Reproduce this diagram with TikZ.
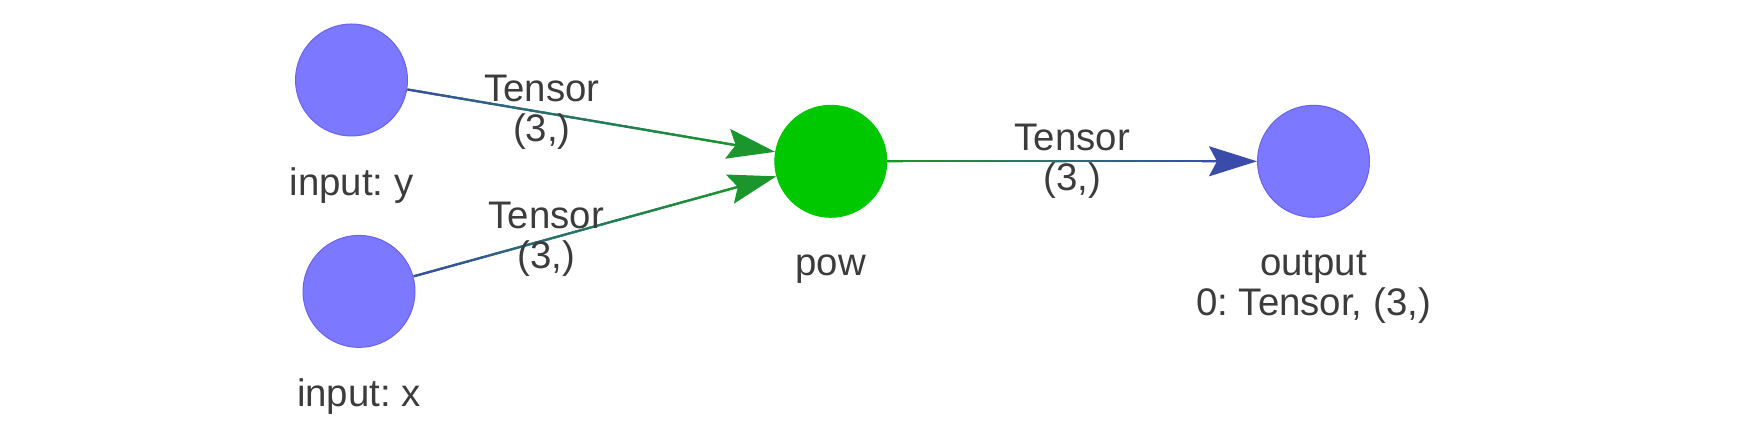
\documentclass[tikz,border=0pt]{standalone}
\usepackage{fontspec,
			tikz
			}
\setmainfont{Liberation Sans}
\usetikzlibrary{arrows.meta,calc}
\frenchspacing

\definecolor{tensorblue}{HTML}{7C78FF}
\definecolor{tensorrim}{HTML}{6A62EE}
\definecolor{opgreen}{HTML}{00C800}
\definecolor{flowblue}{HTML}{3A4CAA}
\definecolor{flowgreen}{HTML}{1A962C}
\definecolor{labelgray}{HTML}{3C3C3C}

\begin{document}
\begin{tikzpicture}[x=0.5pt,y=-0.5pt,
		font=\fontsize{19.2}{20}\selectfont,
		tensornode/.style={circle,fill=tensorblue,draw=tensorrim,line width=0.5pt,minimum size=56pt,inner sep=0pt},
		opnode/.style={circle,fill=opgreen,draw=opgreen,line width=0.5pt,minimum size=56pt,inner sep=0pt},
		flow/.style={line width=1.1pt},
		caption/.style={text=labelgray,align=center,inner sep=0pt}]
		\useasboundingbox (0,0) rectangle (1744,442);
		\node[tensornode] (y) at (351.5,80) {};
		\node[tensornode] (x) at (359,291.4) {};
		\node[opnode] (pow) at (830.8,161.3) {};
		\node[tensornode] (out) at (1313.5,161.3) {};
		\node[caption,anchor=base] (ylab) at (351.5,196) {input: y};
		\node[caption,anchor=base] (xlab) at (359,407) {input: x};
		\node[caption,anchor=base] (powlab) at (830.8,276) {pow};
		\node[caption,anchor=north] (outlab) at (1313.5,250) {output\\0: Tensor, (3,)};
		% edges, coloured from source to target
		\foreach \a/\b/\ca/\cb/\p in {y/pow/flowblue/flowgreen/0.366,
				x/pow/flowblue/flowgreen/0.366,
				pow/out/flowgreen/flowblue/0.5} {
			\draw[flow,draw=\cb,-{Stealth[length=24pt,width=15pt,inset=4pt]}] (\a) -- (\b);
			\coordinate (s0) at ($(\a)!28.5pt!(\b)$);
			\coordinate (s1) at ($(\b)!49pt!(\a)$);
			\foreach \i in {0,...,23} {
				\pgfmathsetmacro\ta{\i/24}
				\pgfmathsetmacro\tb{(\i+1.1)/24}
				\pgfmathsetmacro\mix{100-100*\i/23}
				\draw[flow,draw=\ca!\mix!\cb] ($(s0)!\ta!(s1)$) -- ($(s0)!\tb!(s1)$);
			}
			\path (\a) -- node[caption,pos=\p] {Tensor\\(3,)} (\b);
		}
\end{tikzpicture}
\end{document}
